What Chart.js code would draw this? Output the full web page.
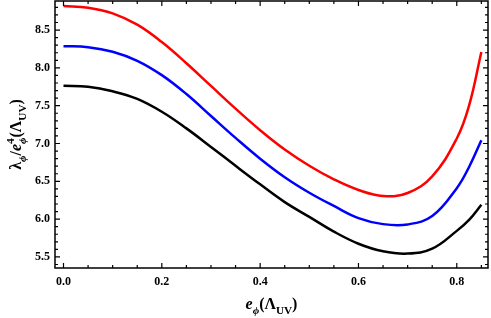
<!DOCTYPE html>
<html>
<head>
<meta charset="utf-8">
<script src="https://cdn.jsdelivr.net/npm/chart.js@4"></script>
<style>
  html, body { margin: 0; padding: 0; background: #fff; }
  #wrap { width: 491px; height: 318px; }
</style>
</head>
<body>
<div id="wrap"><canvas id="lambdaChart"></canvas></div>
<script>
// e_phi values along the x axis
const ePhi = [0, 0.05, 0.1, 0.15, 0.2, 0.25, 0.3, 0.35, 0.4, 0.45, 0.5, 0.55, 0.6, 0.65, 0.7, 0.75, 0.8, 0.825, 0.85];
const redCurve = [8.818, 8.796, 8.721, 8.571, 8.341, 8.061, 7.761, 7.461, 7.176, 6.921, 6.706, 6.526, 6.386, 6.306, 6.346, 6.566, 7.066, 7.50, 8.21];
const blueCurve = [8.287, 8.274, 8.214, 8.094, 7.904, 7.654, 7.364, 7.074, 6.799, 6.554, 6.349, 6.174, 6.014, 5.934, 5.930, 6.040, 6.410, 6.69, 7.043];
const blackCurve = [7.762, 7.750, 7.690, 7.590, 7.420, 7.200, 6.955, 6.705, 6.460, 6.225, 6.030, 5.835, 5.675, 5.575, 5.545, 5.610, 5.845, 5.99, 6.19];

const xTicks = [0, 0.2, 0.4, 0.6, 0.8];
const yTicks = [5.5, 6.0, 6.5, 7.0, 7.5, 8.0, 8.5];

const tickFont = { family: 'Liberation Serif', size: 12, weight: 'bold' };

function points(ys) {
    return ePhi.map((x, i) => ({ x: x, y: ys[i] }));
}

// frame with inward ticks on all four sides, like the original plot
const framePlugin = {
    id: 'frame',
    afterDraw(chart) {
        const { ctx, chartArea: a, scales: { x, y } } = chart;
        ctx.save();
        ctx.strokeStyle = '#000';
        ctx.lineWidth = 1.5;
        ctx.strokeRect(a.left, a.top, a.right - a.left, a.bottom - a.top);
        ctx.lineWidth = 1.2;
        ctx.beginPath();
        for (let i = 0; i <= 17; i++) {
            const v = i * 0.05;
            const px = x.getPixelForValue(v);
            const len = (i % 4 === 0) ? 5 : 3;
            ctx.moveTo(px, a.bottom); ctx.lineTo(px, a.bottom - len);
            ctx.moveTo(px, a.top); ctx.lineTo(px, a.top + len);
        }
        for (let i = 54; i <= 88; i++) {
            const v = i / 10;
            const py = y.getPixelForValue(v);
            const len = (i % 5 === 0) ? 5 : 3;
            ctx.moveTo(a.left, py); ctx.lineTo(a.left + len, py);
            ctx.moveTo(a.right, py); ctx.lineTo(a.right - len, py);
        }
        ctx.stroke();
        ctx.restore();
    }
};

// axis titles with sub/superscripts
function drawRich(ctx, runs, size) {
    const font = (r, s) => (r.it ? 'italic ' : '') + 'bold ' + s + 'px "Liberation Serif"';
    let w = 0;
    runs.forEach(r => {
        const s = r.pos === 'base' ? size : size * 0.7;
        ctx.font = font(r, s);
        r.w = ctx.measureText(r.t).width;
        if (!r.stack) w += r.w;
    });
    // stacked runs share position with the previous one
    let x = -w / 2;
    let prev = 0;
    runs.forEach(r => {
        const s = r.pos === 'base' ? size : size * 0.7;
        ctx.font = font(r, s);
        const dy = r.pos === 'sub' ? size * 0.3 : (r.pos === 'sup' ? -size * 0.42 : 0);
        if (r.stack) {
            ctx.fillText(r.t, x - prev, dy);
        } else {
            ctx.fillText(r.t, x, dy);
            x += r.w;
            prev = r.w;
        }
    });
}

const titlePlugin = {
    id: 'titles',
    afterDraw(chart) {
        const { ctx, chartArea: a } = chart;
        ctx.save();
        ctx.fillStyle = '#000';
        ctx.textBaseline = 'alphabetic';
        ctx.textAlign = 'left';
        ctx.translate((a.left + a.right) / 2, 309);
        drawRich(ctx, [
            { t: 'e', pos: 'base', it: true },
            { t: 'ϕ', pos: 'sub', it: true },
            { t: '(Λ', pos: 'base' },
            { t: 'UV', pos: 'sub' },
            { t: ')', pos: 'base' }
        ], 16);
        ctx.restore();

        ctx.save();
        ctx.fillStyle = '#000';
        ctx.textAlign = 'left';
        ctx.translate(21, (a.top + a.bottom) / 2);
        ctx.rotate(-Math.PI / 2);
        drawRich(ctx, [
            { t: 'λ', pos: 'base' },
            { t: 'ϕ', pos: 'sub', it: true },
            { t: '/', pos: 'base' },
            { t: 'e', pos: 'base', it: true },
            { t: 'ϕ', pos: 'sub', it: true },
            { t: '4', pos: 'sup', stack: true },
            { t: '(Λ', pos: 'base' },
            { t: 'UV', pos: 'sub' },
            { t: ')', pos: 'base' }
        ], 16);
        ctx.restore();
    }
};

function noPad(s) {
    s.paddingTop = 0;
    s.paddingBottom = 0;
    s.paddingLeft = 0;
    s.paddingRight = 0;
}

const ctx = document.getElementById('lambdaChart').getContext('2d');
new Chart(ctx, {
    type: 'line',
    data: {
        datasets: [
            { data: points(redCurve), borderColor: '#ff0000' },
            { data: points(blueCurve), borderColor: '#0000ff' },
            { data: points(blackCurve), borderColor: '#000000' }
        ]
    },
    options: {
        responsive: true,
        maintainAspectRatio: false,
        animation: false,
        datasets: {
            line: { borderWidth: 2.5, pointRadius: 0, tension: 0.4, fill: false }
        },
        layout: {
            padding: { top: 1, right: 3, left: 0, bottom: 0 }
        },
        plugins: {
            legend: { display: false },
            tooltip: { enabled: false }
        },
        scales: {
            x: {
                type: 'linear',
                min: -0.0173,
                max: 0.8635,
                grid: { display: false, drawTicks: false },
                border: { display: false },
                afterBuildTicks: s => { s.ticks = xTicks.map(v => ({ value: v })); },
                afterFit: s => { s.height = 50; noPad(s); },
                ticks: {
                    font: tickFont,
                    color: '#000',
                    padding: 7,
                    maxRotation: 0,
                    callback: v => v.toFixed(1)
                }
            },
            y: {
                min: 5.354,
                max: 8.884,
                grid: { display: false, drawTicks: false },
                border: { display: false },
                afterBuildTicks: s => { s.ticks = yTicks.map(v => ({ value: v })); },
                afterFit: s => { s.width = 55; noPad(s); },
                ticks: {
                    font: tickFont,
                    color: '#000',
                    padding: 5,
                    callback: v => v.toFixed(1)
                }
            }
        }
    },
    plugins: [framePlugin, titlePlugin]
});
</script>
</body>
</html>
